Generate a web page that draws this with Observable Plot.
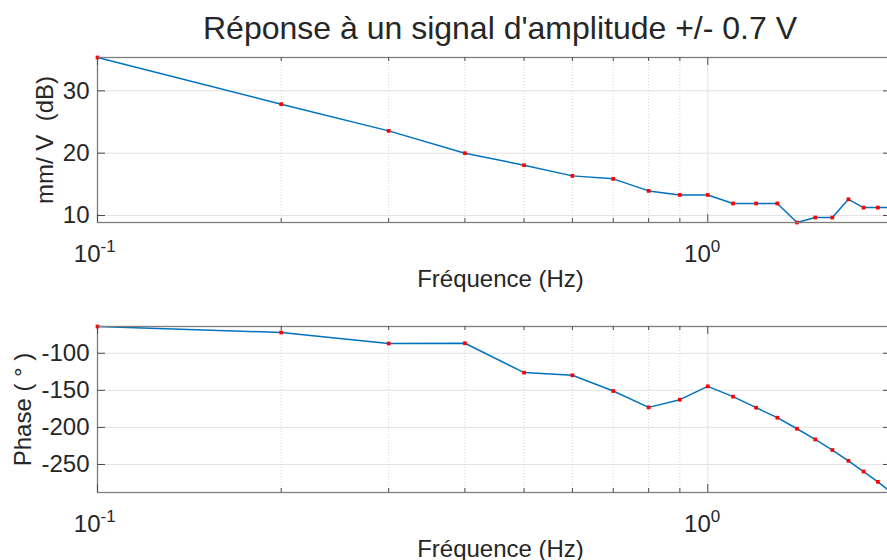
<!DOCTYPE html>
<html>
<head>
<meta charset="utf-8">
<script src="https://cdn.jsdelivr.net/npm/d3@7"></script>
<script src="https://cdn.jsdelivr.net/npm/@observablehq/plot@0.6"></script>
<style>
  body { margin: 0; background: #fff; }
  #wrap { position: relative; width: 887px; height: 560px; overflow: hidden; background: #fff;
          font-family: "Liberation Sans", Arial, Helvetica, sans-serif; color: #262626; }
  #title { position: absolute; left: 0; top: 9px; width: 1000px; text-align: center;
           font-size: 32px; line-height: 38px; white-space: nowrap; }
  #p1 { position: absolute; left: 0; top: 50px; }
  #p2 { position: absolute; left: 0; top: 300px; }
</style>
</head>
<body>
<div id="wrap">
  <div id="title">Réponse à un signal d'amplitude +/- 0.7 V</div>
  <div id="p1"></div>
  <div id="p2"></div>
</div>
<script>
// ---- data ----
const freq = [0.1, 0.2, 0.3, 0.4, 0.5, 0.6, 0.7, 0.8, 0.9, 1.0,
              1.1, 1.2, 1.3, 1.4, 1.5, 1.6, 1.7, 1.8, 1.9, 2.0];
const magnitudeDb = [35.35, 27.86, 23.58, 20.0, 18.07, 16.36, 15.88, 13.95, 13.3, 13.3,
                     11.93, 11.93, 11.93, 8.88, 9.68, 9.68, 12.6, 11.27, 11.27, 11.27];
const phaseDeg = [-63.9, -72.0, -86.9, -86.5, -126.1, -129.7, -150.9, -173.0, -162.6, -144.6,
                  -158.5, -173.4, -186.9, -201.8, -216.2, -230.5, -245.0, -259.5, -273.4, -287.8];
const xDomain = [0.1, 2];
const xMajorTicks = [0.1, 1];
const xMinorTicks = [0.2, 0.3, 0.4, 0.5, 0.6, 0.7, 0.8, 0.9];
const xTickBase = ["10", "10"];
const xTickExp = ["-1", "0"];
const magTicks = [10, 20, 30];
const phaseTicks = [-250, -200, -150, -100];
const xLabel = "Fréquence (Hz)";
const magLabel = "mm/ V  (dB)";
const phaseLabel = "Phase ( ° )";

const FONT = '"Liberation Sans", Arial, Helvetica, sans-serif';
const TXT = "#262626";
const AXIS = "#7d7d7d";
const TICK = "#4a4a4a";
const GRID = "#e3e3e3";
const MINOR = "#c9c9c9";

function panel({values, yTicks, yLabel, height, marginTop, marginBottom, yLabelDx}) {
  const width = 887, marginLeft = 97, marginRight = -4;
  const fw = width - marginLeft - marginRight;
  const fh = height - marginTop - marginBottom;
  const rows = freq.map((f, i) => ({f, v: values[i]}));
  return Plot.plot({
    width, height, marginLeft, marginRight, marginTop, marginBottom,
    style: {fontFamily: FONT, color: TXT, background: "white", overflow: "hidden"},
    x: {type: "log", domain: xDomain, axis: null},
    y: {domain: d3.extent(values), axis: null},
    marks: [
      // grid
      Plot.ruleY(yTicks, {stroke: GRID, strokeWidth: 1}),
      Plot.ruleX(xMinorTicks, {stroke: MINOR, strokeWidth: 0.8, strokeDasharray: "1,2"}),
      Plot.ruleX([1], {stroke: GRID, strokeWidth: 1}),
      // data
      Plot.line(rows, {x: "f", y: "v", stroke: "#0072BD", strokeWidth: 1.5}),
      Plot.dot(rows, {x: "f", y: "v", symbol: "square", r: 2.1, fill: "#ff0000", stroke: null}),
      // box
      Plot.frame({stroke: AXIS, strokeWidth: 1.3}),
      // inward ticks: x major/minor at bottom and top
      Plot.ruleX(xMajorTicks, {insetTop: fh - 8, stroke: TICK, strokeWidth: 1}),
      Plot.ruleX(xMajorTicks, {insetBottom: fh - 8, stroke: TICK, strokeWidth: 1}),
      Plot.ruleX(xMinorTicks, {insetTop: fh - 4, stroke: TICK, strokeWidth: 1}),
      Plot.ruleX(xMinorTicks, {insetBottom: fh - 4, stroke: TICK, strokeWidth: 1}),
      // inward ticks: y left and right
      Plot.ruleY(yTicks, {insetRight: fw - 8, stroke: TICK, strokeWidth: 1}),
      Plot.ruleY(yTicks, {insetLeft: fw - 8, stroke: TICK, strokeWidth: 1}),
      // y tick labels
      Plot.text(yTicks, {y: d => d, text: d => String(d), frameAnchor: "left", textAnchor: "end",
                         dx: -8, fontSize: 24, fill: TXT}),
      // x tick labels 10^n
      Plot.text(xMajorTicks, {x: d => d, text: (d, i) => xTickBase[i], frameAnchor: "bottom",
                              textAnchor: "end", lineAnchor: "bottom", dx: 3, dy: 39, fontSize: 24, fill: TXT}),
      Plot.text(xMajorTicks, {x: d => d, text: (d, i) => xTickExp[i], frameAnchor: "bottom",
                              textAnchor: "start", lineAnchor: "bottom", dx: 3, dy: 29, fontSize: 17, fill: TXT}),
      // axis labels
      Plot.text([xLabel], {frameAnchor: "bottom", textAnchor: "middle", lineAnchor: "bottom",
                           dx: 6, dy: 64, fontSize: 24, fill: TXT}),
      Plot.text([yLabel], {frameAnchor: "left", textAnchor: "middle", rotate: -90, lineAnchor: "middle",
                           dx: yLabelDx, fontSize: 24, fill: TXT})
    ]
  });
}

document.getElementById("p1").append(panel({
  values: magnitudeDb, yTicks: magTicks, yLabel: magLabel,
  height: 250, marginTop: 7, marginBottom: 78, yLabelDx: -52
}));
document.getElementById("p2").append(panel({
  values: phaseDeg, yTicks: phaseTicks, yLabel: phaseLabel,
  height: 260, marginTop: 26, marginBottom: 68, yLabelDx: -74
}));
</script>
</body>
</html>
